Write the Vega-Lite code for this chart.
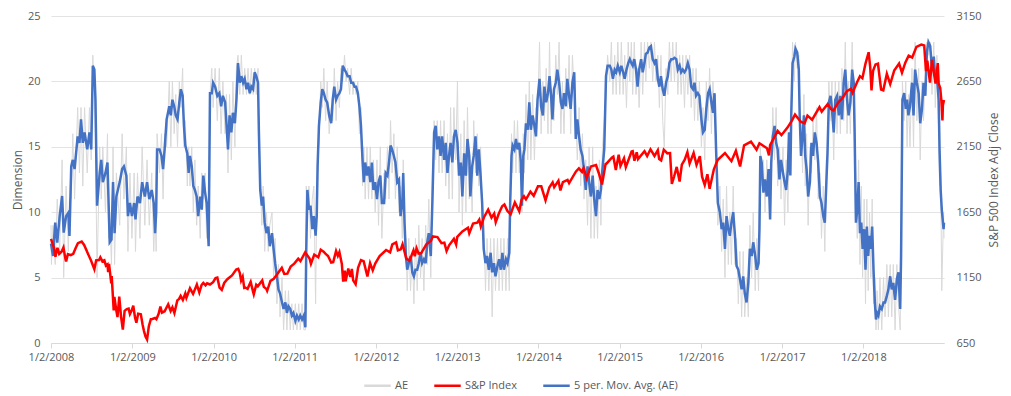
{
"$schema":"https://vega.github.io/schema/vega-lite/v6.json",
"width":893,"height":327,
"autosize":{"type":"none"},
"padding":{"left":51,"top":16,"right":67,"bottom":53},
"background":"#ffffff",
"config":{"font":"Open Sans","view":{"stroke":null},
"axis":{"labelColor":"#595959","titleColor":"#595959","labelFont":"Open Sans","titleFont":"Open Sans","labelFontSize":11,"titleFontSize":12,"titleFontWeight":"normal"}},
"datasets":{
"ae":[
{"d":"2008-01-02","ma":7.6,"ae":9},{"d":"2008-01-04","ma":7.4,"ae":6},{"d":"2008-01-11","ma":6.65,"ae":9},{"d":"2008-01-21","ma":9.2,"ae":6},{"d":"2008-01-30","ma":7.67,"ae":11},{"d":"2008-02-10","ma":9.7,"ae":7},{"d":"2008-02-21","ma":11.24,"ae":14},{"d":"2008-02-28","ma":8.44,"ae":5},{"d":"2008-03-10","ma":9.7,"ae":12},{"d":"2008-03-20","ma":9.96,"ae":7},{"d":"2008-03-25","ma":8.18,"ae":11},{"d":"2008-04-02","ma":13.5,"ae":11},{"d":"2008-04-09","ma":14,"ae":16},{"d":"2008-04-17","ma":13.3,"ae":11},{"d":"2008-05-01","ma":15.8,"ae":18},{"d":"2008-05-09","ma":15.3,"ae":13},{"d":"2008-05-16","ma":17.1,"ae":18},{"d":"2008-05-24","ma":15.3,"ae":12},{"d":"2008-06-01","ma":16.1,"ae":18},{"d":"2008-06-13","ma":14.8,"ae":13},{"d":"2008-06-23","ma":16.1,"ae":18},{"d":"2008-07-01","ma":14.8,"ae":14},{"d":"2008-07-08","ma":21.2,"ae":22},{"d":"2008-07-15","ma":20.9,"ae":19},{"d":"2008-07-20","ma":18.6,"ae":16},{"d":"2008-07-27","ma":10.5,"ae":5},{"d":"2008-08-08","ma":13,"ae":15},{"d":"2008-08-15","ma":14,"ae":11},{"d":"2008-08-22","ma":12.3,"ae":15},{"d":"2008-09-03","ma":13,"ae":10},{"d":"2008-09-12","ma":13.8,"ae":16},{"d":"2008-09-17","ma":10.7,"ae":8},{"d":"2008-09-22","ma":7.7,"ae":10},{"d":"2008-09-30","ma":7.9,"ae":6},{"d":"2008-10-07","ma":12.3,"ae":15},{"d":"2008-10-14","ma":8.4,"ae":6},{"d":"2008-10-22","ma":11.2,"ae":13},{"d":"2008-11-06","ma":12.3,"ae":9},{"d":"2008-11-17","ma":13.3,"ae":16},{"d":"2008-11-25","ma":13.5,"ae":11},{"d":"2008-12-06","ma":12.8,"ae":15},{"d":"2008-12-13","ma":9.7,"ae":7},{"d":"2008-12-22","ma":10.7,"ae":13},{"d":"2008-12-31","ma":9.7,"ae":8},
{"d":"2009-01-10","ma":10.7,"ae":13},{"d":"2009-01-16","ma":9.45,"ae":7},{"d":"2009-01-25","ma":11.2,"ae":13},{"d":"2009-02-05","ma":10.7,"ae":8},{"d":"2009-02-15","ma":12.3,"ae":15},{"d":"2009-02-27","ma":11.2,"ae":9},{"d":"2009-03-09","ma":12.3,"ae":14},{"d":"2009-03-19","ma":11,"ae":9},{"d":"2009-03-30","ma":11.7,"ae":13},{"d":"2009-04-08","ma":10.7,"ae":7},{"d":"2009-04-14","ma":8.4,"ae":10},{"d":"2009-04-19","ma":10,"ae":7},{"d":"2009-04-23","ma":14.8,"ae":16},{"d":"2009-05-04","ma":14.8,"ae":13},{"d":"2009-05-13","ma":14.3,"ae":16},{"d":"2009-05-20","ma":13.3,"ae":11},{"d":"2009-05-27","ma":14.8,"ae":16},{"d":"2009-06-05","ma":17.1,"ae":15},{"d":"2009-06-17","ma":18.1,"ae":20},{"d":"2009-06-24","ma":17.4,"ae":15},{"d":"2009-07-01","ma":18.6,"ae":20},{"d":"2009-07-09","ma":18.1,"ae":16},{"d":"2009-07-16","ma":17.4,"ae":19},{"d":"2009-07-24","ma":17.1,"ae":15},{"d":"2009-08-01","ma":18.4,"ae":20},{"d":"2009-08-08","ma":19.4,"ae":18},{"d":"2009-08-16","ma":18.9,"ae":21},{"d":"2009-08-22","ma":16.6,"ae":15},{"d":"2009-08-28","ma":15.1,"ae":17},{"d":"2009-09-06","ma":14.5,"ae":12},{"d":"2009-09-12","ma":13,"ae":15},{"d":"2009-09-18","ma":14.3,"ae":12},{"d":"2009-09-26","ma":13.5,"ae":15},{"d":"2009-10-03","ma":12,"ae":10},{"d":"2009-10-10","ma":11.7,"ae":14},{"d":"2009-10-18","ma":11.2,"ae":9},{"d":"2009-10-25","ma":9.7,"ae":12},{"d":"2009-11-03","ma":11.2,"ae":8},{"d":"2009-11-10","ma":10.2,"ae":13},{"d":"2009-11-17","ma":12.8,"ae":11},{"d":"2009-11-25","ma":11.5,"ae":13},{"d":"2009-12-02","ma":10.7,"ae":8},{"d":"2009-12-11","ma":7.4,"ae":9},{"d":"2009-12-17","ma":19.1,"ae":19},{"d":"2009-12-25","ma":19.1,"ae":21},{"d":"2009-12-31","ma":19.9,"ae":18},
{"d":"2010-01-09","ma":19.6,"ae":21},{"d":"2010-01-19","ma":18.9,"ae":17},{"d":"2010-01-28","ma":19.1,"ae":21},{"d":"2010-02-05","ma":18.1,"ae":16},{"d":"2010-02-13","ma":18.9,"ae":20},{"d":"2010-02-23","ma":18.4,"ae":16},{"d":"2010-03-01","ma":16.8,"ae":19},{"d":"2010-03-08","ma":14.8,"ae":13},{"d":"2010-03-15","ma":17.4,"ae":19},{"d":"2010-03-23","ma":16.1,"ae":14},{"d":"2010-03-30","ma":17.6,"ae":20},{"d":"2010-04-08","ma":16.8,"ae":15},{"d":"2010-04-15","ma":18.6,"ae":21},{"d":"2010-04-22","ma":21.4,"ae":22},{"d":"2010-04-30","ma":19.9,"ae":19},{"d":"2010-05-07","ma":20.4,"ae":22},{"d":"2010-05-15","ma":19.9,"ae":19},{"d":"2010-05-22","ma":20.2,"ae":21},{"d":"2010-05-30","ma":19.4,"ae":19},{"d":"2010-06-06","ma":19.9,"ae":21},{"d":"2010-06-14","ma":19.1,"ae":19},{"d":"2010-06-21","ma":19.6,"ae":21},{"d":"2010-06-29","ma":19.4,"ae":19},{"d":"2010-07-06","ma":20.7,"ae":21},{"d":"2010-07-13","ma":20.4,"ae":19},{"d":"2010-07-21","ma":19.9,"ae":21},{"d":"2010-07-25","ma":16.1,"ae":15},{"d":"2010-07-31","ma":11.7,"ae":13},{"d":"2010-08-07","ma":10.5,"ae":9},{"d":"2010-08-13","ma":11.2,"ae":12},{"d":"2010-08-20","ma":9.2,"ae":7},{"d":"2010-08-28","ma":8.4,"ae":10},{"d":"2010-09-05","ma":8.9,"ae":7},{"d":"2010-09-12","ma":7.4,"ae":9},{"d":"2010-09-22","ma":8.4,"ae":10},{"d":"2010-09-29","ma":7.2,"ae":5},{"d":"2010-10-06","ma":6.1,"ae":8},{"d":"2010-10-14","ma":5.1,"ae":3},{"d":"2010-10-21","ma":4.1,"ae":6},{"d":"2010-10-28","ma":3.8,"ae":2},{"d":"2010-11-06","ma":3.1,"ae":5},{"d":"2010-11-13","ma":2.6,"ae":1},{"d":"2010-11-21","ma":3.1,"ae":4},{"d":"2010-11-28","ma":2.3,"ae":1},{"d":"2010-12-05","ma":2.8,"ae":4},{"d":"2010-12-13","ma":2.6,"ae":1},{"d":"2010-12-20","ma":2.1,"ae":3},{"d":"2010-12-27","ma":2.3,"ae":1},
{"d":"2011-01-05","ma":1.7,"ae":3},{"d":"2011-01-12","ma":2.1,"ae":1},{"d":"2011-01-20","ma":1.8,"ae":3},{"d":"2011-01-27","ma":2.1,"ae":1},{"d":"2011-02-04","ma":1.8,"ae":3},{"d":"2011-02-12","ma":2.1,"ae":1},{"d":"2011-02-19","ma":1.2,"ae":1},{"d":"2011-02-23","ma":7.2,"ae":12},{"d":"2011-02-28","ma":11.7,"ae":9},{"d":"2011-03-07","ma":10.2,"ae":12},{"d":"2011-03-14","ma":10.5,"ae":8},{"d":"2011-03-22","ma":8.7,"ae":11},{"d":"2011-03-29","ma":9.7,"ae":12},{"d":"2011-04-06","ma":8.2,"ae":3},{"d":"2011-04-11","ma":9.7,"ae":11},{"d":"2011-04-15","ma":13.5,"ae":15},{"d":"2011-04-21","ma":16.6,"ae":15},{"d":"2011-04-29","ma":18.4,"ae":20},{"d":"2011-05-06","ma":19.4,"ae":18},{"d":"2011-05-13","ma":19.1,"ae":21},{"d":"2011-05-21","ma":18.6,"ae":17},{"d":"2011-05-28","ma":18.4,"ae":20},{"d":"2011-06-06","ma":17.4,"ae":16},{"d":"2011-06-15","ma":16.8,"ae":18},{"d":"2011-06-22","ma":18.6,"ae":17},{"d":"2011-06-29","ma":19.6,"ae":21},{"d":"2011-07-07","ma":18.6,"ae":17},{"d":"2011-07-14","ma":18.9,"ae":20},{"d":"2011-07-22","ma":19.1,"ae":18},{"d":"2011-07-29","ma":19.4,"ae":21},{"d":"2011-08-06","ma":21.2,"ae":20},{"d":"2011-08-14","ma":20.9,"ae":22},{"d":"2011-08-21","ma":20.7,"ae":20},{"d":"2011-08-28","ma":20.4,"ae":21},{"d":"2011-09-06","ma":20.4,"ae":19},{"d":"2011-09-13","ma":19.9,"ae":21},{"d":"2011-09-21","ma":19.9,"ae":19},{"d":"2011-09-28","ma":19.6,"ae":20},{"d":"2011-10-05","ma":19.6,"ae":19},{"d":"2011-10-13","ma":19.1,"ae":20},{"d":"2011-10-20","ma":18.1,"ae":16},{"d":"2011-10-27","ma":16.6,"ae":18},{"d":"2011-11-03","ma":14,"ae":12},{"d":"2011-11-09","ma":12.3,"ae":15},{"d":"2011-11-15","ma":13.8,"ae":11},{"d":"2011-11-23","ma":12.8,"ae":15},{"d":"2011-11-30","ma":13.5,"ae":11},{"d":"2011-12-08","ma":12.3,"ae":15},{"d":"2011-12-15","ma":13.8,"ae":11},{"d":"2011-12-22","ma":11.7,"ae":14},{"d":"2011-12-30","ma":12.3,"ae":10},
{"d":"2012-01-07","ma":11,"ae":14},{"d":"2012-01-14","ma":12.3,"ae":9},{"d":"2012-01-22","ma":12.8,"ae":15},{"d":"2012-01-29","ma":10.7,"ae":8},{"d":"2012-02-08","ma":10.7,"ae":13},{"d":"2012-02-15","ma":13,"ae":11},{"d":"2012-02-23","ma":12.8,"ae":15},{"d":"2012-03-01","ma":13.8,"ae":11},{"d":"2012-03-08","ma":15.1,"ae":17},{"d":"2012-03-15","ma":14.8,"ae":13},{"d":"2012-03-23","ma":14.3,"ae":16},{"d":"2012-03-30","ma":13.8,"ae":11},{"d":"2012-04-07","ma":12.3,"ae":15},{"d":"2012-04-15","ma":12.5,"ae":10},{"d":"2012-04-22","ma":9.7,"ae":12},{"d":"2012-04-30","ma":10.7,"ae":8},{"d":"2012-05-04","ma":13,"ae":14},{"d":"2012-05-10","ma":9.2,"ae":7},{"d":"2012-05-16","ma":6.65,"ae":8},{"d":"2012-05-22","ma":5.6,"ae":4},{"d":"2012-05-29","ma":6.1,"ae":8},{"d":"2012-06-06","ma":6.65,"ae":4},{"d":"2012-06-14","ma":5.4,"ae":7},{"d":"2012-06-21","ma":5.1,"ae":3},{"d":"2012-06-28","ma":5.6,"ae":8},{"d":"2012-07-06","ma":5.6,"ae":4},{"d":"2012-07-13","ma":6.1,"ae":9},{"d":"2012-07-21","ma":6.9,"ae":5},{"d":"2012-07-28","ma":6.1,"ae":8},{"d":"2012-08-05","ma":6.4,"ae":4},{"d":"2012-08-13","ma":6.1,"ae":9},{"d":"2012-08-20","ma":7.7,"ae":6},{"d":"2012-08-27","ma":8.4,"ae":11},{"d":"2012-09-05","ma":6.65,"ae":5},{"d":"2012-09-12","ma":10.7,"ae":13},{"d":"2012-09-20","ma":16.1,"ae":17},{"d":"2012-09-27","ma":16.6,"ae":14},{"d":"2012-10-04","ma":14.8,"ae":17},{"d":"2012-10-12","ma":15.8,"ae":13},{"d":"2012-10-19","ma":14.3,"ae":17},{"d":"2012-10-26","ma":15.8,"ae":13},{"d":"2012-11-04","ma":14,"ae":17},{"d":"2012-11-11","ma":15.3,"ae":12},{"d":"2012-11-19","ma":13,"ae":16},{"d":"2012-11-26","ma":14.3,"ae":11},{"d":"2012-12-03","ma":15.3,"ae":18},{"d":"2012-12-11","ma":13.8,"ae":11},{"d":"2012-12-18","ma":15.8,"ae":18},{"d":"2012-12-26","ma":16.3,"ae":14},
{"d":"2013-01-03","ma":15.3,"ae":20},{"d":"2013-01-10","ma":12.8,"ae":10},{"d":"2013-01-18","ma":13.8,"ae":16},{"d":"2013-01-25","ma":11.2,"ae":9},{"d":"2013-02-02","ma":14.5,"ae":17},{"d":"2013-02-10","ma":12.8,"ae":10},{"d":"2013-02-17","ma":15.6,"ae":18},{"d":"2013-02-25","ma":14.3,"ae":11},{"d":"2013-03-02","ma":11.2,"ae":14},{"d":"2013-03-10","ma":13.5,"ae":10},{"d":"2013-03-17","ma":14.3,"ae":17},{"d":"2013-03-25","ma":15.8,"ae":13},{"d":"2013-04-02","ma":12.8,"ae":16},{"d":"2013-04-09","ma":14.8,"ae":12},{"d":"2013-04-17","ma":12.8,"ae":15},{"d":"2013-04-24","ma":10.7,"ae":9},{"d":"2013-05-01","ma":7.2,"ae":9},{"d":"2013-05-09","ma":6.1,"ae":4},{"d":"2013-05-16","ma":6.65,"ae":8},{"d":"2013-05-24","ma":5.6,"ae":4},{"d":"2013-06-01","ma":6.9,"ae":8},{"d":"2013-06-08","ma":5.4,"ae":2},{"d":"2013-06-16","ma":6.1,"ae":8},{"d":"2013-06-23","ma":5.1,"ae":4},{"d":"2013-07-02","ma":5.9,"ae":8},{"d":"2013-07-09","ma":6.4,"ae":4},{"d":"2013-07-17","ma":5.6,"ae":8},{"d":"2013-07-24","ma":6.9,"ae":4},{"d":"2013-07-31","ma":5.6,"ae":8},{"d":"2013-08-09","ma":6.4,"ae":4},{"d":"2013-08-16","ma":6.1,"ae":8},{"d":"2013-08-24","ma":6.9,"ae":4},{"d":"2013-08-28","ma":10.7,"ae":9},{"d":"2013-09-03","ma":14.3,"ae":16},{"d":"2013-09-08","ma":15.1,"ae":13},{"d":"2013-09-16","ma":14.8,"ae":17},{"d":"2013-09-23","ma":15.6,"ae":13},{"d":"2013-09-30","ma":14.8,"ae":17},{"d":"2013-10-08","ma":15.3,"ae":13},{"d":"2013-10-15","ma":13.8,"ae":15},{"d":"2013-10-20","ma":10.5,"ae":10},{"d":"2013-10-26","ma":14.3,"ae":16},{"d":"2013-10-31","ma":14.8,"ae":13},{"d":"2013-11-07","ma":16.8,"ae":19},{"d":"2013-11-15","ma":16.3,"ae":14},{"d":"2013-11-22","ma":18.4,"ae":20},{"d":"2013-11-29","ma":16.3,"ae":14},{"d":"2013-12-07","ma":17.4,"ae":19},{"d":"2013-12-15","ma":16.6,"ae":14},{"d":"2013-12-22","ma":15.8,"ae":18},{"d":"2013-12-29","ma":18.6,"ae":17},
{"d":"2014-01-07","ma":20.2,"ae":23},{"d":"2014-01-14","ma":18.1,"ae":16},{"d":"2014-01-22","ma":17.4,"ae":20},{"d":"2014-01-29","ma":19.6,"ae":17},{"d":"2014-02-06","ma":18.4,"ae":21},{"d":"2014-02-14","ma":19.1,"ae":16},{"d":"2014-02-21","ma":20.4,"ae":23},{"d":"2014-02-28","ma":18.9,"ae":16},{"d":"2014-03-06","ma":17.1,"ae":19},{"d":"2014-03-13","ma":19.4,"ae":17},{"d":"2014-03-21","ma":19.9,"ae":22},{"d":"2014-03-28","ma":20.9,"ae":19},{"d":"2014-04-05","ma":19.9,"ae":23},{"d":"2014-04-13","ma":18.4,"ae":16},{"d":"2014-04-20","ma":17.9,"ae":20},{"d":"2014-04-27","ma":19.1,"ae":16},{"d":"2014-05-05","ma":18.1,"ae":21},{"d":"2014-05-12","ma":20.2,"ae":18},{"d":"2014-05-20","ma":18.9,"ae":22},{"d":"2014-05-27","ma":17.9,"ae":16},{"d":"2014-06-04","ma":19.9,"ae":22},{"d":"2014-06-12","ma":20.7,"ae":19},{"d":"2014-06-19","ma":15.6,"ae":17},{"d":"2014-06-26","ma":17.1,"ae":14},{"d":"2014-07-04","ma":15.8,"ae":18},{"d":"2014-07-11","ma":14.8,"ae":12},{"d":"2014-07-19","ma":14.3,"ae":16},{"d":"2014-07-26","ma":13.3,"ae":11},{"d":"2014-08-03","ma":11.7,"ae":14},{"d":"2014-08-11","ma":13.5,"ae":9},{"d":"2014-08-18","ma":12.3,"ae":15},{"d":"2014-08-26","ma":11.2,"ae":8},{"d":"2014-09-03","ma":12.8,"ae":15},{"d":"2014-09-10","ma":11,"ae":8},{"d":"2014-09-18","ma":9.7,"ae":12},{"d":"2014-09-25","ma":11.7,"ae":8},{"d":"2014-10-03","ma":11,"ae":14},{"d":"2014-10-10","ma":11.7,"ae":9},{"d":"2014-10-17","ma":13.3,"ae":15},{"d":"2014-10-25","ma":14.8,"ae":17},{"d":"2014-11-02","ma":20.4,"ae":19},{"d":"2014-11-09","ma":21.2,"ae":22},{"d":"2014-11-19","ma":21.2,"ae":20},{"d":"2014-11-26","ma":20.9,"ae":23},{"d":"2014-12-03","ma":20.2,"ae":19},{"d":"2014-12-11","ma":20.9,"ae":22},{"d":"2014-12-18","ma":20.7,"ae":19},{"d":"2014-12-25","ma":21.2,"ae":23},
{"d":"2015-01-03","ma":20.7,"ae":19},{"d":"2015-01-10","ma":21.2,"ae":23},{"d":"2015-01-18","ma":20.7,"ae":19},{"d":"2015-01-25","ma":20.2,"ae":22},{"d":"2015-02-02","ma":20.9,"ae":18},{"d":"2015-02-10","ma":21.4,"ae":23},{"d":"2015-02-17","ma":21.7,"ae":20},{"d":"2015-02-24","ma":21.4,"ae":23},{"d":"2015-03-02","ma":21.2,"ae":19},{"d":"2015-03-09","ma":21.7,"ae":23},{"d":"2015-03-17","ma":20.9,"ae":19},{"d":"2015-03-24","ma":19.6,"ae":21},{"d":"2015-03-31","ma":20.9,"ae":18},{"d":"2015-04-09","ma":21.7,"ae":23},{"d":"2015-04-16","ma":20.7,"ae":19},{"d":"2015-04-24","ma":21.4,"ae":23},{"d":"2015-04-30","ma":22.1,"ae":20},{"d":"2015-05-08","ma":22.2,"ae":23},{"d":"2015-05-16","ma":22.6,"ae":21},{"d":"2015-05-23","ma":22.7,"ae":23},{"d":"2015-05-31","ma":21.7,"ae":20},{"d":"2015-06-08","ma":21.4,"ae":23},{"d":"2015-06-15","ma":21.7,"ae":20},{"d":"2015-06-23","ma":20.2,"ae":22},{"d":"2015-06-30","ma":19.6,"ae":18},{"d":"2015-07-07","ma":20.4,"ae":22},{"d":"2015-07-15","ma":19.4,"ae":17},{"d":"2015-07-22","ma":18.9,"ae":15},{"d":"2015-07-30","ma":19.9,"ae":21},{"d":"2015-08-07","ma":20.4,"ae":19},{"d":"2015-08-14","ma":21.4,"ae":23},{"d":"2015-08-22","ma":21.7,"ae":20},{"d":"2015-08-29","ma":21.7,"ae":23},{"d":"2015-09-06","ma":21.8,"ae":20},{"d":"2015-09-14","ma":21.7,"ae":23},{"d":"2015-09-21","ma":20.9,"ae":19},{"d":"2015-09-29","ma":21.2,"ae":22},{"d":"2015-10-06","ma":20.7,"ae":19},{"d":"2015-10-13","ma":20.9,"ae":22},{"d":"2015-10-21","ma":20.7,"ae":18},{"d":"2015-10-28","ma":20.9,"ae":22},{"d":"2015-11-05","ma":21.4,"ae":19},{"d":"2015-11-13","ma":20.9,"ae":22},{"d":"2015-11-20","ma":19.6,"ae":18},{"d":"2015-11-28","ma":19.4,"ae":21},{"d":"2015-12-05","ma":19.9,"ae":17},{"d":"2015-12-12","ma":18.9,"ae":21},{"d":"2015-12-20","ma":19.1,"ae":17},{"d":"2015-12-27","ma":18.9,"ae":20},
{"d":"2016-01-05","ma":17.1,"ae":15},{"d":"2016-01-12","ma":16.1,"ae":18},{"d":"2016-01-20","ma":16.3,"ae":14},{"d":"2016-01-27","ma":17.9,"ae":20},{"d":"2016-02-04","ma":19.1,"ae":17},{"d":"2016-02-11","ma":19.4,"ae":21},{"d":"2016-02-19","ma":18.4,"ae":16},{"d":"2016-02-26","ma":17.6,"ae":20},{"d":"2016-03-04","ma":19.1,"ae":17},{"d":"2016-03-11","ma":14.8,"ae":16},{"d":"2016-03-19","ma":10.7,"ae":9},{"d":"2016-03-28","ma":10,"ae":12},{"d":"2016-04-05","ma":8.7,"ae":7},{"d":"2016-04-12","ma":9.2,"ae":11},{"d":"2016-04-20","ma":7.2,"ae":5},{"d":"2016-04-27","ma":9.7,"ae":12},{"d":"2016-05-05","ma":8.7,"ae":6},{"d":"2016-05-12","ma":8.2,"ae":10},{"d":"2016-05-19","ma":9.2,"ae":6},{"d":"2016-05-27","ma":10,"ae":12},{"d":"2016-06-04","ma":8.2,"ae":6},{"d":"2016-06-11","ma":5.9,"ae":8},{"d":"2016-06-19","ma":5.6,"ae":3},{"d":"2016-06-26","ma":4.9,"ae":7},{"d":"2016-07-04","ma":4.1,"ae":2},{"d":"2016-07-11","ma":5.1,"ae":7},{"d":"2016-07-18","ma":3.8,"ae":2},{"d":"2016-07-26","ma":3.1,"ae":5},{"d":"2016-08-03","ma":4.6,"ae":2},{"d":"2016-08-10","ma":7.2,"ae":9},{"d":"2016-08-18","ma":6.65,"ae":5},{"d":"2016-08-25","ma":7.7,"ae":10},{"d":"2016-09-03","ma":6.65,"ae":4},{"d":"2016-09-10","ma":5.6,"ae":8},{"d":"2016-09-18","ma":6.1,"ae":4},{"d":"2016-09-22","ma":8.7,"ae":10},{"d":"2016-09-26","ma":14.3,"ae":15},{"d":"2016-10-02","ma":13.8,"ae":12},{"d":"2016-10-10","ma":11.5,"ae":14},{"d":"2016-10-17","ma":12.5,"ae":10},{"d":"2016-10-25","ma":11.2,"ae":14},{"d":"2016-11-02","ma":13.3,"ae":11},{"d":"2016-11-09","ma":9.45,"ae":12},{"d":"2016-11-14","ma":13.8,"ae":12},{"d":"2016-11-21","ma":15.8,"ae":18},{"d":"2016-11-29","ma":16.6,"ae":14},{"d":"2016-12-06","ma":15.3,"ae":18},{"d":"2016-12-13","ma":14.8,"ae":12},{"d":"2016-12-21","ma":12.5,"ae":15},{"d":"2016-12-28","ma":14,"ae":11},
{"d":"2017-01-06","ma":13,"ae":15},{"d":"2017-01-13","ma":12.3,"ae":9},{"d":"2017-01-20","ma":11.7,"ae":14},{"d":"2017-01-28","ma":13.3,"ae":10},{"d":"2017-02-02","ma":16.1,"ae":14},{"d":"2017-02-08","ma":12.8,"ae":15},{"d":"2017-02-12","ma":17.4,"ae":18},{"d":"2017-02-18","ma":21.4,"ae":23},{"d":"2017-02-26","ma":21.9,"ae":20},{"d":"2017-03-03","ma":22.5,"ae":23},{"d":"2017-03-11","ma":22.2,"ae":21},{"d":"2017-03-18","ma":20.9,"ae":22},{"d":"2017-03-22","ma":17.4,"ae":16},{"d":"2017-03-28","ma":14.3,"ae":17},{"d":"2017-04-04","ma":15.8,"ae":13},{"d":"2017-04-10","ma":17.4,"ae":19},{"d":"2017-04-16","ma":14.3,"ae":12},{"d":"2017-04-22","ma":13.3,"ae":16},{"d":"2017-04-29","ma":11.2,"ae":9},{"d":"2017-05-07","ma":12.3,"ae":15},{"d":"2017-05-14","ma":15.3,"ae":13},{"d":"2017-05-21","ma":14.3,"ae":17},{"d":"2017-05-29","ma":16.1,"ae":14},{"d":"2017-06-06","ma":15.3,"ae":18},{"d":"2017-06-13","ma":13.8,"ae":11},{"d":"2017-06-21","ma":11.2,"ae":13},{"d":"2017-06-28","ma":10.7,"ae":8},{"d":"2017-07-06","ma":9.7,"ae":12},{"d":"2017-07-13","ma":9.2,"ae":7},{"d":"2017-07-20","ma":12.3,"ae":14},{"d":"2017-07-25","ma":14.5,"ae":13},{"d":"2017-07-31","ma":18.4,"ae":20},{"d":"2017-08-08","ma":18.9,"ae":17},{"d":"2017-08-14","ma":17.9,"ae":20},{"d":"2017-08-22","ma":16.1,"ae":14},{"d":"2017-08-29","ma":18.6,"ae":20},{"d":"2017-09-06","ma":18.9,"ae":16},{"d":"2017-09-14","ma":17.4,"ae":20},{"d":"2017-09-21","ma":18.9,"ae":16},{"d":"2017-09-28","ma":17.1,"ae":21},{"d":"2017-10-06","ma":19.9,"ae":17},{"d":"2017-10-13","ma":20.9,"ae":23},{"d":"2017-10-21","ma":18.6,"ae":16},{"d":"2017-10-28","ma":17.4,"ae":20},{"d":"2017-11-05","ma":18.4,"ae":16},{"d":"2017-11-13","ma":20.9,"ae":23},{"d":"2017-11-20","ma":19.9,"ae":17},{"d":"2017-11-24","ma":16.1,"ae":18},{"d":"2017-11-30","ma":9.2,"ae":11},{"d":"2017-12-06","ma":10.2,"ae":8},{"d":"2017-12-12","ma":12.3,"ae":14},{"d":"2017-12-18","ma":8.4,"ae":6},{"d":"2017-12-24","ma":9.2,"ae":12},{"d":"2017-12-30","ma":7.2,"ae":5},
{"d":"2018-01-06","ma":8.7,"ae":11},{"d":"2018-01-12","ma":5.6,"ae":3},{"d":"2018-01-18","ma":8.9,"ae":11},{"d":"2018-01-24","ma":6.65,"ae":4},{"d":"2018-01-30","ma":8.2,"ae":10},{"d":"2018-02-05","ma":7.2,"ae":5},{"d":"2018-02-11","ma":8.9,"ae":11},{"d":"2018-02-17","ma":5.6,"ae":3},{"d":"2018-02-23","ma":3.1,"ae":5},{"d":"2018-02-28","ma":1.8,"ae":1},{"d":"2018-03-05","ma":2.3,"ae":4},{"d":"2018-03-11","ma":2.1,"ae":1},{"d":"2018-03-18","ma":2.8,"ae":5},{"d":"2018-03-26","ma":2.6,"ae":1},{"d":"2018-04-03","ma":3.1,"ae":5},{"d":"2018-04-10","ma":3.1,"ae":2},{"d":"2018-04-18","ma":3.6,"ae":6},{"d":"2018-04-25","ma":4.1,"ae":2},{"d":"2018-05-03","ma":5.1,"ae":6},{"d":"2018-05-10","ma":4.1,"ae":2},{"d":"2018-05-17","ma":4.6,"ae":6},{"d":"2018-05-25","ma":3.3,"ae":1},{"d":"2018-06-02","ma":4.9,"ae":6},{"d":"2018-06-09","ma":5.4,"ae":3},{"d":"2018-06-17","ma":2.6,"ae":1},{"d":"2018-06-21","ma":6.65,"ae":8},{"d":"2018-06-27","ma":18.6,"ae":20},{"d":"2018-07-05","ma":19.1,"ae":17},{"d":"2018-07-12","ma":17.9,"ae":20},{"d":"2018-07-18","ma":18.6,"ae":15},{"d":"2018-07-24","ma":17.4,"ae":19},{"d":"2018-07-31","ma":18.1,"ae":15},{"d":"2018-08-09","ma":19.9,"ae":21},{"d":"2018-08-16","ma":17.4,"ae":15},{"d":"2018-08-23","ma":20.9,"ae":23},{"d":"2018-08-31","ma":19.9,"ae":17},{"d":"2018-09-08","ma":19.1,"ae":21},{"d":"2018-09-15","ma":16.8,"ae":14},{"d":"2018-09-23","ma":17.9,"ae":20},{"d":"2018-09-30","ma":19.9,"ae":17},{"d":"2018-10-08","ma":18.9,"ae":21},{"d":"2018-10-15","ma":22.2,"ae":23},{"d":"2018-10-22","ma":23,"ae":22},{"d":"2018-10-30","ma":22.7,"ae":23},{"d":"2018-11-07","ma":20.9,"ae":19},{"d":"2018-11-15","ma":21.9,"ae":23},{"d":"2018-11-22","ma":20.2,"ae":18},{"d":"2018-11-29","ma":20.4,"ae":22},{"d":"2018-12-07","ma":18.6,"ae":16},{"d":"2018-12-11","ma":14.8,"ae":12},{"d":"2018-12-16","ma":11.7,"ae":13},{"d":"2018-12-21","ma":10.2,"ae":4},{"d":"2018-12-29","ma":8.7,"ae":10},{"d":"2018-12-31","ma":9.2,"ae":8}
],
"sp":[
{"d":"2008-01-02","v":1447},{"d":"2008-01-09","v":1409},{"d":"2008-01-15","v":1380},{"d":"2008-01-22","v":1310},{"d":"2008-01-31","v":1378},{"d":"2008-02-08","v":1331},{"d":"2008-02-19","v":1350},{"d":"2008-02-27","v":1380},{"d":"2008-03-07","v":1293},{"d":"2008-03-10","v":1273},{"d":"2008-03-18","v":1330},{"d":"2008-03-31","v":1322},{"d":"2008-04-11","v":1332},{"d":"2008-04-22","v":1376},{"d":"2008-05-02","v":1413},{"d":"2008-05-19","v":1426},{"d":"2008-05-30","v":1400},{"d":"2008-06-10","v":1358},{"d":"2008-06-20","v":1318},{"d":"2008-06-30","v":1280},{"d":"2008-07-15","v":1214},{"d":"2008-07-23","v":1282},{"d":"2008-08-05","v":1284},{"d":"2008-08-11","v":1305},{"d":"2008-08-20","v":1275},{"d":"2008-08-29","v":1282},{"d":"2008-09-05","v":1242},{"d":"2008-09-12","v":1251},{"d":"2008-09-15","v":1192},{"d":"2008-09-19","v":1255},{"d":"2008-09-29","v":1106},{"d":"2008-10-01","v":1161},{"d":"2008-10-10","v":899},{"d":"2008-10-13","v":1003},{"d":"2008-10-22","v":896},{"d":"2008-10-27","v":848},{"d":"2008-11-04","v":1005},{"d":"2008-11-12","v":852},{"d":"2008-11-20","v":752},{"d":"2008-11-28","v":896},{"d":"2008-12-08","v":909},{"d":"2008-12-16","v":913},{"d":"2008-12-22","v":871},{"d":"2008-12-31","v":903},
{"d":"2009-01-06","v":935},{"d":"2009-01-14","v":843},{"d":"2009-01-20","v":805},{"d":"2009-01-28","v":874},{"d":"2009-02-09","v":870},{"d":"2009-02-17","v":789},{"d":"2009-02-23","v":743},{"d":"2009-03-02","v":700},{"d":"2009-03-09","v":677},{"d":"2009-03-17","v":778},{"d":"2009-03-26","v":832},{"d":"2009-04-02","v":834},{"d":"2009-04-14","v":841},{"d":"2009-04-20","v":832},{"d":"2009-04-30","v":873},{"d":"2009-05-08","v":929},{"d":"2009-05-15","v":882},{"d":"2009-05-27","v":893},{"d":"2009-06-12","v":946},{"d":"2009-06-23","v":895},{"d":"2009-07-01","v":923},{"d":"2009-07-10","v":879},{"d":"2009-07-23","v":976},{"d":"2009-07-31","v":987},{"d":"2009-08-07","v":1010},{"d":"2009-08-17","v":979},{"d":"2009-08-28","v":1029},{"d":"2009-09-02","v":995},{"d":"2009-09-18","v":1068},{"d":"2009-10-02","v":1025},{"d":"2009-10-19","v":1097},{"d":"2009-10-30","v":1036},{"d":"2009-11-09","v":1093},{"d":"2009-11-17","v":1110},{"d":"2009-11-27","v":1091},{"d":"2009-12-04","v":1106},{"d":"2009-12-17","v":1097},{"d":"2009-12-31","v":1115},
{"d":"2010-01-11","v":1146},{"d":"2010-01-19","v":1150},{"d":"2010-01-29","v":1074},{"d":"2010-02-08","v":1056},{"d":"2010-02-19","v":1109},{"d":"2010-03-05","v":1138},{"d":"2010-03-26","v":1167},{"d":"2010-04-14","v":1211},{"d":"2010-04-23","v":1217},{"d":"2010-04-30","v":1187},{"d":"2010-05-06","v":1128},{"d":"2010-05-13","v":1157},{"d":"2010-05-20","v":1071},{"d":"2010-05-25","v":1074},{"d":"2010-06-04","v":1064},{"d":"2010-06-18","v":1117},{"d":"2010-06-29","v":1041},{"d":"2010-07-02","v":1022},{"d":"2010-07-13","v":1095},{"d":"2010-07-20","v":1083},{"d":"2010-08-09","v":1128},{"d":"2010-08-16","v":1079},{"d":"2010-08-27","v":1065},{"d":"2010-08-31","v":1049},{"d":"2010-09-15","v":1125},{"d":"2010-09-30","v":1141},{"d":"2010-10-15","v":1176},{"d":"2010-11-05","v":1225},{"d":"2010-11-16","v":1178},{"d":"2010-11-30","v":1180},{"d":"2010-12-15","v":1235},{"d":"2010-12-31","v":1257},
{"d":"2011-01-18","v":1295},{"d":"2011-01-28","v":1276},{"d":"2011-02-18","v":1343},{"d":"2011-03-10","v":1295},{"d":"2011-03-16","v":1256},{"d":"2011-03-31","v":1326},{"d":"2011-04-18","v":1305},{"d":"2011-04-29","v":1363},{"d":"2011-05-12","v":1348},{"d":"2011-05-20","v":1333},{"d":"2011-06-01","v":1315},{"d":"2011-06-15","v":1265},{"d":"2011-06-24","v":1268},{"d":"2011-07-07","v":1353},{"d":"2011-07-15","v":1316},{"d":"2011-07-22","v":1345},{"d":"2011-08-02","v":1254},{"d":"2011-08-08","v":1119},{"d":"2011-08-15","v":1204},{"d":"2011-08-19","v":1123},{"d":"2011-08-31","v":1219},{"d":"2011-09-09","v":1154},{"d":"2011-09-16","v":1216},{"d":"2011-09-22","v":1129},{"d":"2011-10-03","v":1099},{"d":"2011-10-14","v":1225},{"d":"2011-10-27","v":1284},{"d":"2011-11-08","v":1275},{"d":"2011-11-25","v":1158},{"d":"2011-12-07","v":1261},{"d":"2011-12-19","v":1205},{"d":"2011-12-30","v":1257},
{"d":"2012-01-19","v":1314},{"d":"2012-02-17","v":1361},{"d":"2012-03-06","v":1343},{"d":"2012-03-16","v":1404},{"d":"2012-04-02","v":1419},{"d":"2012-04-10","v":1358},{"d":"2012-04-23","v":1366},{"d":"2012-05-01","v":1405},{"d":"2012-05-18","v":1295},{"d":"2012-06-01","v":1278},{"d":"2012-06-19","v":1357},{"d":"2012-06-25","v":1313},{"d":"2012-07-03","v":1374},{"d":"2012-07-12","v":1334},{"d":"2012-07-24","v":1338},{"d":"2012-08-16","v":1405},{"d":"2012-09-06","v":1432},{"d":"2012-09-14","v":1465},{"d":"2012-10-05","v":1460},{"d":"2012-10-23","v":1413},{"d":"2012-11-05","v":1417},{"d":"2012-11-15","v":1353},{"d":"2012-11-27","v":1399},{"d":"2012-12-18","v":1446},{"d":"2012-12-28","v":1402},
{"d":"2013-01-02","v":1462},{"d":"2013-01-25","v":1503},{"d":"2013-02-19","v":1531},{"d":"2013-02-25","v":1488},{"d":"2013-03-14","v":1563},{"d":"2013-04-02","v":1570},{"d":"2013-04-11","v":1593},{"d":"2013-04-18","v":1541},{"d":"2013-05-03","v":1614},{"d":"2013-05-21","v":1669},{"d":"2013-06-05","v":1608},{"d":"2013-06-17","v":1639},{"d":"2013-06-24","v":1573},{"d":"2013-07-08","v":1640},{"d":"2013-07-23","v":1696},{"d":"2013-08-02","v":1709},{"d":"2013-08-15","v":1661},{"d":"2013-08-30","v":1633},{"d":"2013-09-18","v":1725},{"d":"2013-10-08","v":1656},{"d":"2013-10-18","v":1745},{"d":"2013-10-29","v":1772},{"d":"2013-11-07","v":1748},{"d":"2013-11-27","v":1807},{"d":"2013-12-12","v":1775},{"d":"2013-12-31","v":1848},
{"d":"2014-01-15","v":1848},{"d":"2014-02-03","v":1741},{"d":"2014-02-20","v":1839},{"d":"2014-03-07","v":1878},{"d":"2014-03-14","v":1841},{"d":"2014-04-02","v":1890},{"d":"2014-04-11","v":1816},{"d":"2014-04-22","v":1879},{"d":"2014-05-13","v":1897},{"d":"2014-05-20","v":1872},{"d":"2014-06-20","v":1962},{"d":"2014-07-03","v":1985},{"d":"2014-07-17","v":1958},{"d":"2014-07-24","v":1988},{"d":"2014-08-07","v":1910},{"d":"2014-08-26","v":2000},{"d":"2014-09-18","v":2011},{"d":"2014-10-01","v":1946},{"d":"2014-10-15","v":1862},{"d":"2014-10-31","v":2018},{"d":"2014-11-05","v":2023},{"d":"2014-11-28","v":2067},{"d":"2014-12-05","v":2075},{"d":"2014-12-16","v":1972},{"d":"2014-12-29","v":2090},
{"d":"2015-01-06","v":2003},{"d":"2015-01-22","v":2063},{"d":"2015-01-30","v":1995},{"d":"2015-02-25","v":2114},{"d":"2015-03-02","v":2117},{"d":"2015-03-10","v":2044},{"d":"2015-03-20","v":2108},{"d":"2015-03-26","v":2056},{"d":"2015-04-24","v":2117},{"d":"2015-05-06","v":2080},{"d":"2015-05-21","v":2131},{"d":"2015-06-08","v":2080},{"d":"2015-06-23","v":2124},{"d":"2015-06-29","v":2057},{"d":"2015-07-08","v":2046},{"d":"2015-07-20","v":2128},{"d":"2015-08-05","v":2100},{"d":"2015-08-17","v":2102},{"d":"2015-08-25","v":1867},{"d":"2015-09-04","v":1921},{"d":"2015-09-16","v":1996},{"d":"2015-09-29","v":1884},{"d":"2015-10-09","v":2014},{"d":"2015-10-22","v":2052},{"d":"2015-11-03","v":2109},{"d":"2015-11-13","v":2023},{"d":"2015-12-01","v":2103},{"d":"2015-12-14","v":2012},{"d":"2015-12-29","v":2078},
{"d":"2016-01-08","v":1922},{"d":"2016-01-20","v":1859},{"d":"2016-02-01","v":1940},{"d":"2016-02-11","v":1829},{"d":"2016-03-01","v":1978},{"d":"2016-03-18","v":2049},{"d":"2016-04-20","v":2102},{"d":"2016-05-19","v":2040},{"d":"2016-06-08","v":2119},{"d":"2016-06-27","v":2000},{"d":"2016-07-15","v":2161},{"d":"2016-08-15","v":2190},{"d":"2016-09-09","v":2128},{"d":"2016-09-22","v":2177},{"d":"2016-10-26","v":2139},{"d":"2016-11-04","v":2085},{"d":"2016-11-09","v":2163},{"d":"2016-12-13","v":2271},{"d":"2016-12-30","v":2239},
{"d":"2017-01-26","v":2297},{"d":"2017-02-15","v":2350},{"d":"2017-03-01","v":2396},{"d":"2017-03-27","v":2342},{"d":"2017-04-13","v":2329},{"d":"2017-04-26","v":2388},{"d":"2017-05-17","v":2357},{"d":"2017-06-19","v":2453},{"d":"2017-06-29","v":2419},{"d":"2017-07-26","v":2477},{"d":"2017-08-10","v":2438},{"d":"2017-08-17","v":2430},{"d":"2017-08-21","v":2428},{"d":"2017-09-11","v":2488},{"d":"2017-09-29","v":2519},{"d":"2017-10-20","v":2575},{"d":"2017-11-08","v":2594},{"d":"2017-11-15","v":2564},{"d":"2017-12-04","v":2639},{"d":"2017-12-18","v":2690},{"d":"2017-12-29","v":2674},
{"d":"2018-01-12","v":2786},{"d":"2018-01-26","v":2873},{"d":"2018-02-02","v":2762},{"d":"2018-02-08","v":2581},{"d":"2018-02-15","v":2732},{"d":"2018-02-26","v":2780},{"d":"2018-03-09","v":2786},{"d":"2018-03-23","v":2588},{"d":"2018-04-02","v":2582},{"d":"2018-04-18","v":2708},{"d":"2018-05-03","v":2630},{"d":"2018-05-21","v":2733},{"d":"2018-06-12","v":2786},{"d":"2018-06-25","v":2717},{"d":"2018-07-10","v":2793},{"d":"2018-07-25","v":2846},{"d":"2018-08-10","v":2833},{"d":"2018-08-29","v":2914},{"d":"2018-09-20","v":2931},{"d":"2018-10-03","v":2925},{"d":"2018-10-11","v":2728},{"d":"2018-10-17","v":2809},{"d":"2018-10-29","v":2641},{"d":"2018-11-07","v":2814},{"d":"2018-11-23","v":2633},{"d":"2018-12-03","v":2790},{"d":"2018-12-07","v":2633},{"d":"2018-12-14","v":2600},{"d":"2018-12-19","v":2507},{"d":"2018-12-24","v":2351},{"d":"2018-12-26","v":2467},{"d":"2018-12-31","v":2507}
]},
"layer":[
{"data":{"name":"ae"},
"layer":[
{"mark":{"type":"line","strokeWidth":1},
"encoding":{
"x":{"field":"d","type":"temporal","scale":{"type":"utc","nice":false,"domain":[{"year":2008,"month":1,"date":2,"utc":true},{"year":2018,"month":12,"date":31,"utc":true}]},
"axis":{"title":null,"format":"%-m/%-d/%Y","values":[{"year":2008,"month":1,"date":2,"utc":true},{"year":2009,"month":1,"date":2,"utc":true},{"year":2010,"month":1,"date":2,"utc":true},{"year":2011,"month":1,"date":2,"utc":true},{"year":2012,"month":1,"date":2,"utc":true},{"year":2013,"month":1,"date":2,"utc":true},{"year":2014,"month":1,"date":2,"utc":true},{"year":2015,"month":1,"date":2,"utc":true},{"year":2016,"month":1,"date":2,"utc":true},{"year":2017,"month":1,"date":2,"utc":true},{"year":2018,"month":1,"date":2,"utc":true}],"grid":false,"tickSize":5,"tickColor":"#d9d9d9","domainColor":"#d9d9d9","labelPadding":3,"labelFlush":false,"labelOverlap":false}},
"y":{"field":"ae","type":"quantitative","title":"Dimension","scale":{"domain":[0,25],"nice":false,"zero":false},
"axis":{"values":[0,5,10,15,20,25],"grid":true,"gridColor":"#e3e3e3","domain":false,"ticks":false,"tickSize":0,"labelPadding":11,"titleAngle":270,"titleX":-34,"titleY":163.5,"titleAlign":"center","titleBaseline":"middle"}},
"color":{"datum":"AE","type":"nominal","scale":{"domain":["AE","S&P Index","5 per. Mov. Avg. (AE)"],"range":["#d9d9d9","#ff0000","#4472c4"]},
"legend":{"orient":"none","legendX":312,"legendY":355,"direction":"horizontal","title":null,"symbolType":"stroke","symbolSize":700,"symbolStrokeWidth":2.5,"labelFontSize":11,"labelColor":"#595959","labelFont":"Open Sans","columnPadding":20,"labelOffset":3}}}},
{"mark":{"type":"line","strokeWidth":2.5},
"encoding":{
"x":{"field":"d","type":"temporal"},
"y":{"field":"ma","type":"quantitative","title":"Dimension","scale":{"domain":[0,25],"nice":false,"zero":false}},
"color":{"datum":"5 per. Mov. Avg. (AE)","type":"nominal"}}}
]},
{"data":{"name":"sp"},
"mark":{"type":"line","strokeWidth":2.5},
"encoding":{
"x":{"field":"d","type":"temporal"},
"y":{"field":"v","type":"quantitative","title":"S&P 500 Index Adj Close","scale":{"domain":[650,3150],"nice":false,"zero":false},
"axis":{"orient":"right","format":"d","values":[650,1150,1650,2150,2650,3150],"grid":false,"domain":false,"ticks":false,"tickSize":0,"labelPadding":12,"titleAngle":270,"titleX":49,"titleY":163.5,"titleAlign":"center","titleBaseline":"middle"}},
"color":{"datum":"S&P Index","type":"nominal"}}}
],
"resolve":{"scale":{"y":"independent"}}
}
